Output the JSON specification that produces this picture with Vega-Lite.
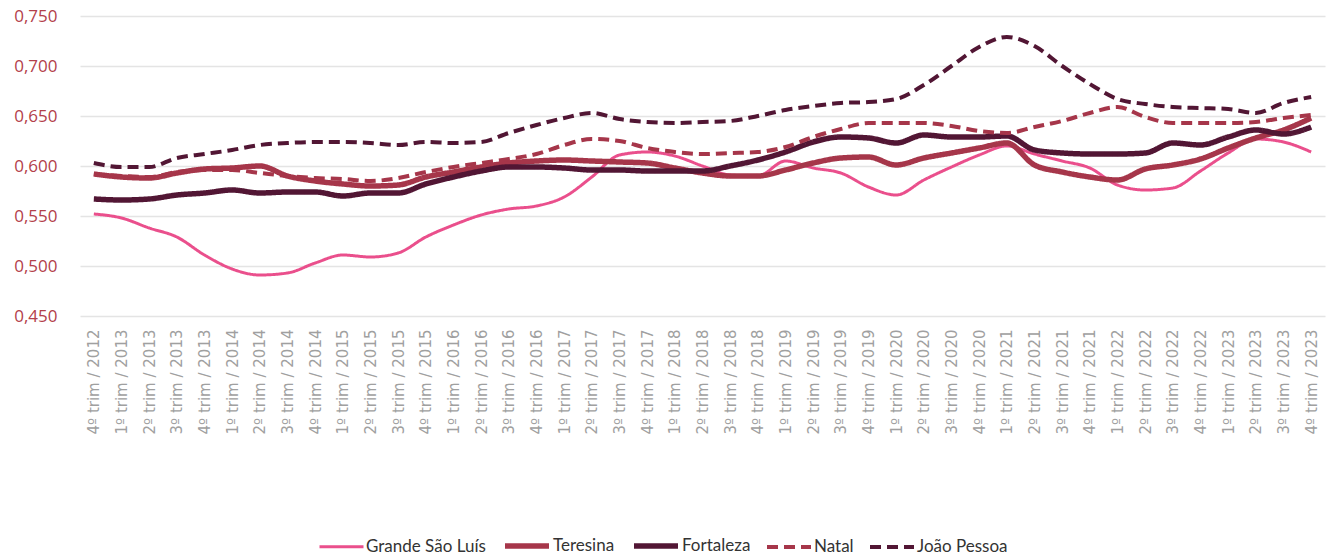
{
  "$schema": "https://vega.github.io/schema/vega-lite/v6.json",
  "width": 1245,
  "height": 300,
  "autosize": {"type": "none"},
  "padding": {"left": 80, "top": 16, "right": 16, "bottom": 244},
  "background": "white",
  "config": {"view": {"stroke": null}},
  "datasets": {
    "d": [
      {"periodo":"4º trim / 2012","cidade":"Grande São Luís","valor":0.552},
      {"periodo":"1º trim / 2013","cidade":"Grande São Luís","valor":0.548},
      {"periodo":"2º trim / 2013","cidade":"Grande São Luís","valor":0.538},
      {"periodo":"3º trim / 2013","cidade":"Grande São Luís","valor":0.529},
      {"periodo":"4º trim / 2013","cidade":"Grande São Luís","valor":0.511},
      {"periodo":"1º trim / 2014","cidade":"Grande São Luís","valor":0.497},
      {"periodo":"2º trim / 2014","cidade":"Grande São Luís","valor":0.491},
      {"periodo":"3º trim / 2014","cidade":"Grande São Luís","valor":0.493},
      {"periodo":"4º trim / 2014","cidade":"Grande São Luís","valor":0.503},
      {"periodo":"1º trim / 2015","cidade":"Grande São Luís","valor":0.511},
      {"periodo":"2º trim / 2015","cidade":"Grande São Luís","valor":0.509},
      {"periodo":"3º trim / 2015","cidade":"Grande São Luís","valor":0.513},
      {"periodo":"4º trim / 2015","cidade":"Grande São Luís","valor":0.529},
      {"periodo":"1º trim / 2016","cidade":"Grande São Luís","valor":0.541},
      {"periodo":"2º trim / 2016","cidade":"Grande São Luís","valor":0.551},
      {"periodo":"3º trim / 2016","cidade":"Grande São Luís","valor":0.557},
      {"periodo":"4º trim / 2016","cidade":"Grande São Luís","valor":0.560},
      {"periodo":"1º trim / 2017","cidade":"Grande São Luís","valor":0.569},
      {"periodo":"2º trim / 2017","cidade":"Grande São Luís","valor":0.589},
      {"periodo":"3º trim / 2017","cidade":"Grande São Luís","valor":0.611},
      {"periodo":"4º trim / 2017","cidade":"Grande São Luís","valor":0.614},
      {"periodo":"1º trim / 2018","cidade":"Grande São Luís","valor":0.610},
      {"periodo":"2º trim / 2018","cidade":"Grande São Luís","valor":0.600},
      {"periodo":"3º trim / 2018","cidade":"Grande São Luís","valor":0.591},
      {"periodo":"4º trim / 2018","cidade":"Grande São Luís","valor":0.590},
      {"periodo":"1º trim / 2019","cidade":"Grande São Luís","valor":0.605},
      {"periodo":"2º trim / 2019","cidade":"Grande São Luís","valor":0.598},
      {"periodo":"3º trim / 2019","cidade":"Grande São Luís","valor":0.593},
      {"periodo":"4º trim / 2019","cidade":"Grande São Luís","valor":0.579},
      {"periodo":"1º trim / 2020","cidade":"Grande São Luís","valor":0.571},
      {"periodo":"2º trim / 2020","cidade":"Grande São Luís","valor":0.586},
      {"periodo":"3º trim / 2020","cidade":"Grande São Luís","valor":0.599},
      {"periodo":"4º trim / 2020","cidade":"Grande São Luís","valor":0.611},
      {"periodo":"1º trim / 2021","cidade":"Grande São Luís","valor":0.620},
      {"periodo":"2º trim / 2021","cidade":"Grande São Luís","valor":0.612},
      {"periodo":"3º trim / 2021","cidade":"Grande São Luís","valor":0.605},
      {"periodo":"4º trim / 2021","cidade":"Grande São Luís","valor":0.598},
      {"periodo":"1º trim / 2022","cidade":"Grande São Luís","valor":0.581},
      {"periodo":"2º trim / 2022","cidade":"Grande São Luís","valor":0.576},
      {"periodo":"3º trim / 2022","cidade":"Grande São Luís","valor":0.578},
      {"periodo":"4º trim / 2022","cidade":"Grande São Luís","valor":0.595},
      {"periodo":"1º trim / 2023","cidade":"Grande São Luís","valor":0.613},
      {"periodo":"2º trim / 2023","cidade":"Grande São Luís","valor":0.627},
      {"periodo":"3º trim / 2023","cidade":"Grande São Luís","valor":0.624},
      {"periodo":"4º trim / 2023","cidade":"Grande São Luís","valor":0.614},

      {"periodo":"4º trim / 2012","cidade":"Teresina","valor":0.592},
      {"periodo":"1º trim / 2013","cidade":"Teresina","valor":0.589},
      {"periodo":"2º trim / 2013","cidade":"Teresina","valor":0.588},
      {"periodo":"3º trim / 2013","cidade":"Teresina","valor":0.593},
      {"periodo":"4º trim / 2013","cidade":"Teresina","valor":0.597},
      {"periodo":"1º trim / 2014","cidade":"Teresina","valor":0.598},
      {"periodo":"2º trim / 2014","cidade":"Teresina","valor":0.600},
      {"periodo":"3º trim / 2014","cidade":"Teresina","valor":0.590},
      {"periodo":"4º trim / 2014","cidade":"Teresina","valor":0.585},
      {"periodo":"1º trim / 2015","cidade":"Teresina","valor":0.582},
      {"periodo":"2º trim / 2015","cidade":"Teresina","valor":0.580},
      {"periodo":"3º trim / 2015","cidade":"Teresina","valor":0.581},
      {"periodo":"4º trim / 2015","cidade":"Teresina","valor":0.589},
      {"periodo":"1º trim / 2016","cidade":"Teresina","valor":0.594},
      {"periodo":"2º trim / 2016","cidade":"Teresina","valor":0.599},
      {"periodo":"3º trim / 2016","cidade":"Teresina","valor":0.603},
      {"periodo":"4º trim / 2016","cidade":"Teresina","valor":0.605},
      {"periodo":"1º trim / 2017","cidade":"Teresina","valor":0.606},
      {"periodo":"2º trim / 2017","cidade":"Teresina","valor":0.605},
      {"periodo":"3º trim / 2017","cidade":"Teresina","valor":0.604},
      {"periodo":"4º trim / 2017","cidade":"Teresina","valor":0.603},
      {"periodo":"1º trim / 2018","cidade":"Teresina","valor":0.598},
      {"periodo":"2º trim / 2018","cidade":"Teresina","valor":0.593},
      {"periodo":"3º trim / 2018","cidade":"Teresina","valor":0.590},
      {"periodo":"4º trim / 2018","cidade":"Teresina","valor":0.590},
      {"periodo":"1º trim / 2019","cidade":"Teresina","valor":0.596},
      {"periodo":"2º trim / 2019","cidade":"Teresina","valor":0.603},
      {"periodo":"3º trim / 2019","cidade":"Teresina","valor":0.608},
      {"periodo":"4º trim / 2019","cidade":"Teresina","valor":0.609},
      {"periodo":"1º trim / 2020","cidade":"Teresina","valor":0.601},
      {"periodo":"2º trim / 2020","cidade":"Teresina","valor":0.608},
      {"periodo":"3º trim / 2020","cidade":"Teresina","valor":0.613},
      {"periodo":"4º trim / 2020","cidade":"Teresina","valor":0.618},
      {"periodo":"1º trim / 2021","cidade":"Teresina","valor":0.623},
      {"periodo":"2º trim / 2021","cidade":"Teresina","valor":0.601},
      {"periodo":"3º trim / 2021","cidade":"Teresina","valor":0.594},
      {"periodo":"4º trim / 2021","cidade":"Teresina","valor":0.589},
      {"periodo":"1º trim / 2022","cidade":"Teresina","valor":0.586},
      {"periodo":"2º trim / 2022","cidade":"Teresina","valor":0.597},
      {"periodo":"3º trim / 2022","cidade":"Teresina","valor":0.601},
      {"periodo":"4º trim / 2022","cidade":"Teresina","valor":0.607},
      {"periodo":"1º trim / 2023","cidade":"Teresina","valor":0.618},
      {"periodo":"2º trim / 2023","cidade":"Teresina","valor":0.628},
      {"periodo":"3º trim / 2023","cidade":"Teresina","valor":0.636},
      {"periodo":"4º trim / 2023","cidade":"Teresina","valor":0.648},

      {"periodo":"4º trim / 2012","cidade":"Fortaleza","valor":0.567},
      {"periodo":"1º trim / 2013","cidade":"Fortaleza","valor":0.566},
      {"periodo":"2º trim / 2013","cidade":"Fortaleza","valor":0.567},
      {"periodo":"3º trim / 2013","cidade":"Fortaleza","valor":0.571},
      {"periodo":"4º trim / 2013","cidade":"Fortaleza","valor":0.573},
      {"periodo":"1º trim / 2014","cidade":"Fortaleza","valor":0.576},
      {"periodo":"2º trim / 2014","cidade":"Fortaleza","valor":0.573},
      {"periodo":"3º trim / 2014","cidade":"Fortaleza","valor":0.574},
      {"periodo":"4º trim / 2014","cidade":"Fortaleza","valor":0.574},
      {"periodo":"1º trim / 2015","cidade":"Fortaleza","valor":0.570},
      {"periodo":"2º trim / 2015","cidade":"Fortaleza","valor":0.573},
      {"periodo":"3º trim / 2015","cidade":"Fortaleza","valor":0.573},
      {"periodo":"4º trim / 2015","cidade":"Fortaleza","valor":0.582},
      {"periodo":"1º trim / 2016","cidade":"Fortaleza","valor":0.589},
      {"periodo":"2º trim / 2016","cidade":"Fortaleza","valor":0.595},
      {"periodo":"3º trim / 2016","cidade":"Fortaleza","valor":0.599},
      {"periodo":"4º trim / 2016","cidade":"Fortaleza","valor":0.599},
      {"periodo":"1º trim / 2017","cidade":"Fortaleza","valor":0.598},
      {"periodo":"2º trim / 2017","cidade":"Fortaleza","valor":0.596},
      {"periodo":"3º trim / 2017","cidade":"Fortaleza","valor":0.596},
      {"periodo":"4º trim / 2017","cidade":"Fortaleza","valor":0.595},
      {"periodo":"1º trim / 2018","cidade":"Fortaleza","valor":0.595},
      {"periodo":"2º trim / 2018","cidade":"Fortaleza","valor":0.595},
      {"periodo":"3º trim / 2018","cidade":"Fortaleza","valor":0.600},
      {"periodo":"4º trim / 2018","cidade":"Fortaleza","valor":0.606},
      {"periodo":"1º trim / 2019","cidade":"Fortaleza","valor":0.614},
      {"periodo":"2º trim / 2019","cidade":"Fortaleza","valor":0.624},
      {"periodo":"3º trim / 2019","cidade":"Fortaleza","valor":0.629},
      {"periodo":"4º trim / 2019","cidade":"Fortaleza","valor":0.628},
      {"periodo":"1º trim / 2020","cidade":"Fortaleza","valor":0.623},
      {"periodo":"2º trim / 2020","cidade":"Fortaleza","valor":0.631},
      {"periodo":"3º trim / 2020","cidade":"Fortaleza","valor":0.629},
      {"periodo":"4º trim / 2020","cidade":"Fortaleza","valor":0.629},
      {"periodo":"1º trim / 2021","cidade":"Fortaleza","valor":0.630},
      {"periodo":"2º trim / 2021","cidade":"Fortaleza","valor":0.616},
      {"periodo":"3º trim / 2021","cidade":"Fortaleza","valor":0.613},
      {"periodo":"4º trim / 2021","cidade":"Fortaleza","valor":0.612},
      {"periodo":"1º trim / 2022","cidade":"Fortaleza","valor":0.612},
      {"periodo":"2º trim / 2022","cidade":"Fortaleza","valor":0.613},
      {"periodo":"3º trim / 2022","cidade":"Fortaleza","valor":0.623},
      {"periodo":"4º trim / 2022","cidade":"Fortaleza","valor":0.621},
      {"periodo":"1º trim / 2023","cidade":"Fortaleza","valor":0.629},
      {"periodo":"2º trim / 2023","cidade":"Fortaleza","valor":0.636},
      {"periodo":"3º trim / 2023","cidade":"Fortaleza","valor":0.632},
      {"periodo":"4º trim / 2023","cidade":"Fortaleza","valor":0.639},

      {"periodo":"4º trim / 2012","cidade":"Natal","valor":0.592},
      {"periodo":"1º trim / 2013","cidade":"Natal","valor":0.590},
      {"periodo":"2º trim / 2013","cidade":"Natal","valor":0.589},
      {"periodo":"3º trim / 2013","cidade":"Natal","valor":0.594},
      {"periodo":"4º trim / 2013","cidade":"Natal","valor":0.596},
      {"periodo":"1º trim / 2014","cidade":"Natal","valor":0.596},
      {"periodo":"2º trim / 2014","cidade":"Natal","valor":0.593},
      {"periodo":"3º trim / 2014","cidade":"Natal","valor":0.590},
      {"periodo":"4º trim / 2014","cidade":"Natal","valor":0.588},
      {"periodo":"1º trim / 2015","cidade":"Natal","valor":0.587},
      {"periodo":"2º trim / 2015","cidade":"Natal","valor":0.585},
      {"periodo":"3º trim / 2015","cidade":"Natal","valor":0.588},
      {"periodo":"4º trim / 2015","cidade":"Natal","valor":0.594},
      {"periodo":"1º trim / 2016","cidade":"Natal","valor":0.599},
      {"periodo":"2º trim / 2016","cidade":"Natal","valor":0.603},
      {"periodo":"3º trim / 2016","cidade":"Natal","valor":0.607},
      {"periodo":"4º trim / 2016","cidade":"Natal","valor":0.612},
      {"periodo":"1º trim / 2017","cidade":"Natal","valor":0.621},
      {"periodo":"2º trim / 2017","cidade":"Natal","valor":0.627},
      {"periodo":"3º trim / 2017","cidade":"Natal","valor":0.625},
      {"periodo":"4º trim / 2017","cidade":"Natal","valor":0.618},
      {"periodo":"1º trim / 2018","cidade":"Natal","valor":0.614},
      {"periodo":"2º trim / 2018","cidade":"Natal","valor":0.612},
      {"periodo":"3º trim / 2018","cidade":"Natal","valor":0.613},
      {"periodo":"4º trim / 2018","cidade":"Natal","valor":0.614},
      {"periodo":"1º trim / 2019","cidade":"Natal","valor":0.619},
      {"periodo":"2º trim / 2019","cidade":"Natal","valor":0.629},
      {"periodo":"3º trim / 2019","cidade":"Natal","valor":0.637},
      {"periodo":"4º trim / 2019","cidade":"Natal","valor":0.643},
      {"periodo":"1º trim / 2020","cidade":"Natal","valor":0.643},
      {"periodo":"2º trim / 2020","cidade":"Natal","valor":0.643},
      {"periodo":"3º trim / 2020","cidade":"Natal","valor":0.640},
      {"periodo":"4º trim / 2020","cidade":"Natal","valor":0.635},
      {"periodo":"1º trim / 2021","cidade":"Natal","valor":0.633},
      {"periodo":"2º trim / 2021","cidade":"Natal","valor":0.639},
      {"periodo":"3º trim / 2021","cidade":"Natal","valor":0.645},
      {"periodo":"4º trim / 2021","cidade":"Natal","valor":0.653},
      {"periodo":"1º trim / 2022","cidade":"Natal","valor":0.659},
      {"periodo":"2º trim / 2022","cidade":"Natal","valor":0.649},
      {"periodo":"3º trim / 2022","cidade":"Natal","valor":0.643},
      {"periodo":"4º trim / 2022","cidade":"Natal","valor":0.643},
      {"periodo":"1º trim / 2023","cidade":"Natal","valor":0.643},
      {"periodo":"2º trim / 2023","cidade":"Natal","valor":0.644},
      {"periodo":"3º trim / 2023","cidade":"Natal","valor":0.648},
      {"periodo":"4º trim / 2023","cidade":"Natal","valor":0.651},

      {"periodo":"4º trim / 2012","cidade":"João Pessoa","valor":0.603},
      {"periodo":"1º trim / 2013","cidade":"João Pessoa","valor":0.599},
      {"periodo":"2º trim / 2013","cidade":"João Pessoa","valor":0.599},
      {"periodo":"3º trim / 2013","cidade":"João Pessoa","valor":0.608},
      {"periodo":"4º trim / 2013","cidade":"João Pessoa","valor":0.612},
      {"periodo":"1º trim / 2014","cidade":"João Pessoa","valor":0.616},
      {"periodo":"2º trim / 2014","cidade":"João Pessoa","valor":0.621},
      {"periodo":"3º trim / 2014","cidade":"João Pessoa","valor":0.623},
      {"periodo":"4º trim / 2014","cidade":"João Pessoa","valor":0.624},
      {"periodo":"1º trim / 2015","cidade":"João Pessoa","valor":0.624},
      {"periodo":"2º trim / 2015","cidade":"João Pessoa","valor":0.623},
      {"periodo":"3º trim / 2015","cidade":"João Pessoa","valor":0.621},
      {"periodo":"4º trim / 2015","cidade":"João Pessoa","valor":0.624},
      {"periodo":"1º trim / 2016","cidade":"João Pessoa","valor":0.623},
      {"periodo":"2º trim / 2016","cidade":"João Pessoa","valor":0.624},
      {"periodo":"3º trim / 2016","cidade":"João Pessoa","valor":0.633},
      {"periodo":"4º trim / 2016","cidade":"João Pessoa","valor":0.641},
      {"periodo":"1º trim / 2017","cidade":"João Pessoa","valor":0.648},
      {"periodo":"2º trim / 2017","cidade":"João Pessoa","valor":0.653},
      {"periodo":"3º trim / 2017","cidade":"João Pessoa","valor":0.647},
      {"periodo":"4º trim / 2017","cidade":"João Pessoa","valor":0.644},
      {"periodo":"1º trim / 2018","cidade":"João Pessoa","valor":0.643},
      {"periodo":"2º trim / 2018","cidade":"João Pessoa","valor":0.644},
      {"periodo":"3º trim / 2018","cidade":"João Pessoa","valor":0.645},
      {"periodo":"4º trim / 2018","cidade":"João Pessoa","valor":0.650},
      {"periodo":"1º trim / 2019","cidade":"João Pessoa","valor":0.656},
      {"periodo":"2º trim / 2019","cidade":"João Pessoa","valor":0.660},
      {"periodo":"3º trim / 2019","cidade":"João Pessoa","valor":0.663},
      {"periodo":"4º trim / 2019","cidade":"João Pessoa","valor":0.664},
      {"periodo":"1º trim / 2020","cidade":"João Pessoa","valor":0.667},
      {"periodo":"2º trim / 2020","cidade":"João Pessoa","valor":0.681},
      {"periodo":"3º trim / 2020","cidade":"João Pessoa","valor":0.700},
      {"periodo":"4º trim / 2020","cidade":"João Pessoa","valor":0.719},
      {"periodo":"1º trim / 2021","cidade":"João Pessoa","valor":0.729},
      {"periodo":"2º trim / 2021","cidade":"João Pessoa","valor":0.720},
      {"periodo":"3º trim / 2021","cidade":"João Pessoa","valor":0.700},
      {"periodo":"4º trim / 2021","cidade":"João Pessoa","valor":0.682},
      {"periodo":"1º trim / 2022","cidade":"João Pessoa","valor":0.667},
      {"periodo":"2º trim / 2022","cidade":"João Pessoa","valor":0.662},
      {"periodo":"3º trim / 2022","cidade":"João Pessoa","valor":0.659},
      {"periodo":"4º trim / 2022","cidade":"João Pessoa","valor":0.658},
      {"periodo":"1º trim / 2023","cidade":"João Pessoa","valor":0.657},
      {"periodo":"2º trim / 2023","cidade":"João Pessoa","valor":0.653},
      {"periodo":"3º trim / 2023","cidade":"João Pessoa","valor":0.663},
      {"periodo":"4º trim / 2023","cidade":"João Pessoa","valor":0.669}
    ]
  },
  "data": {"name": "d"},
  "mark": {"type": "line", "interpolate": "monotone", "strokeCap": "butt", "strokeJoin": "round"},
  "encoding": {
    "x": {
      "field": "periodo",
      "type": "nominal",
      "sort": null,
      "scale": {"type": "point", "padding": 0.5},
      "axis": {
        "title": null,
        "labelAngle": -90,
        "labelAlign": "right",
        "labelBaseline": "middle",
        "labelFont": "DejaVu Sans",
        "labelFontSize": 15,
        "labelColor": "#a0a0a0",
        "labelPadding": 13,
        "ticks": false,
        "tickSize": 0,
        "domain": false,
        "grid": false
      }
    },
    "y": {
      "field": "valor",
      "type": "quantitative",
      "scale": {"domain": [0.45, 0.75], "zero": false, "nice": false},
      "axis": {
        "title": null,
        "values": [0.45, 0.5, 0.55, 0.6, 0.65, 0.7, 0.75],
        "labelExpr": "replace(format(datum.value, '.3f'), '.', ',')",
        "labelFont": "Open Sans",
        "labelFontSize": 17,
        "labelColor": "#b3404a",
        "labelPadding": 23,
        "ticks": false,
        "tickSize": 0,
        "domain": false,
        "grid": true,
        "gridColor": "#e4e4e4",
        "gridWidth": 1.5
      }
    },
    "color": {
      "field": "cidade",
      "type": "nominal",
      "scale": {
        "domain": ["Grande São Luís", "Teresina", "Fortaleza", "Natal", "João Pessoa"],
        "range": ["#ea4f8c", "#a6364a", "#521634", "#a6364a", "#521634"]
      },
      "legend": {
        "title": null,
        "orient": "none",
        "legendX": 238,
        "legendY": 505,
        "direction": "horizontal",
        "symbolType": "stroke",
        "symbolSize": 1936,
        "labelFont": "Lato",
        "labelFontSize": 17,
        "labelColor": "#333333",
        "labelOffset": 1,
        "columnPadding": 8
      }
    },
    "strokeDash": {
      "field": "cidade",
      "type": "nominal",
      "scale": {
        "domain": ["Grande São Luís", "Teresina", "Fortaleza", "Natal", "João Pessoa"],
        "range": [[1, 0], [1, 0], [1, 0], [11, 6], [11, 6]]
      },
      "legend": {
        "title": null,
        "orient": "none",
        "legendX": 238,
        "legendY": 505,
        "direction": "horizontal",
        "symbolType": "stroke",
        "symbolSize": 1936,
        "labelFont": "Lato",
        "labelFontSize": 17,
        "labelColor": "#333333",
        "labelOffset": 1,
        "columnPadding": 8
      }
    },
    "strokeWidth": {
      "field": "cidade",
      "type": "nominal",
      "scale": {
        "type": "ordinal",
        "domain": ["Grande São Luís", "Teresina", "Fortaleza", "Natal", "João Pessoa"],
        "range": [3, 5.5, 5.5, 4, 4]
      },
      "legend": {
        "title": null,
        "orient": "none",
        "legendX": 238,
        "legendY": 505,
        "direction": "horizontal",
        "symbolType": "stroke",
        "symbolSize": 1936,
        "labelFont": "Lato",
        "labelFontSize": 17,
        "labelColor": "#333333",
        "labelOffset": 1,
        "columnPadding": 8
      }
    }
  }
}
